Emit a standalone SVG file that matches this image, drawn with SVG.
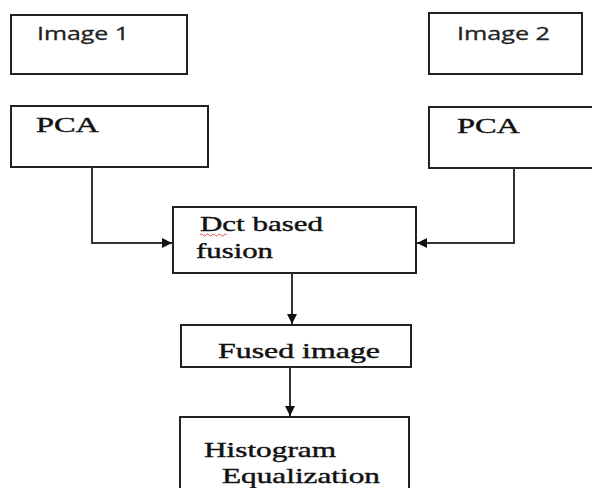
<svg xmlns="http://www.w3.org/2000/svg" width="592" height="488" viewBox="0 0 592 488">
<defs>
<style>
.box{fill:#fff;stroke:#222;stroke-width:2}
.ln{fill:none;stroke:#333;stroke-width:2}
.sans{font-family:"Open Sans","Liberation Sans",sans-serif;font-size:18px;fill:#222;stroke:#222;stroke-width:0.3}
.serif{font-family:"Liberation Serif","Times New Roman",serif;font-size:21px;fill:#111;stroke:#111;stroke-width:0.4}
</style>
<marker id="ah" viewBox="0 0 10 10" refX="10" refY="5" markerWidth="5" markerHeight="5" orient="auto" markerUnits="strokeWidth">
<path d="M0,0 L10,5 L0,10 z" fill="#111"/>
</marker>
</defs>
<rect width="592" height="488" fill="#fff"/>
<g id="image1">
<rect class="box" x="11" y="15" width="176" height="59"/>
<text class="sans" x="37" y="40" textLength="92" lengthAdjust="spacingAndGlyphs">Image 1</text>
</g>
<g id="image2">
<rect class="box" x="429" y="13" width="153" height="61"/>
<text class="sans" x="457" y="40" textLength="93" lengthAdjust="spacingAndGlyphs">Image 2</text>
</g>
<g id="pca1">
<rect class="box" x="11" y="106" width="197" height="61"/>
<text class="serif" x="36" y="132" textLength="63" lengthAdjust="spacingAndGlyphs">PCA</text>
</g>
<g id="pca2">
<rect class="box" x="429" y="107" width="170" height="61"/>
<text class="serif" x="457" y="133" textLength="63" lengthAdjust="spacingAndGlyphs">PCA</text>
</g>
<g id="dct">
<rect class="box" x="173" y="207" width="243" height="66"/>
<text class="serif" x="200" y="231" textLength="123" lengthAdjust="spacingAndGlyphs">Dct based</text>
<text class="serif" x="196" y="258" textLength="77" lengthAdjust="spacingAndGlyphs">fusion</text>
<path d="M200,235 q1.5,-2 3,0 t3,0 t3,0 t3,0 t3,0 t3,0 t3,0 t3,0 t3,0" fill="none" stroke="#e03030" stroke-width="0.8"/>
</g>
<g id="fused">
<rect class="box" x="181" y="325" width="230" height="42"/>
<text class="serif" x="218" y="358" textLength="162" lengthAdjust="spacingAndGlyphs">Fused image</text>
</g>
<g id="hist">
<rect class="box" x="180" y="417" width="229" height="90"/>
<text class="serif" x="204" y="457" textLength="132" lengthAdjust="spacingAndGlyphs">Histogram</text>
<text class="serif" x="222" y="483" textLength="158" lengthAdjust="spacingAndGlyphs">Equalization</text>
</g>
<g id="connectors">
<path class="ln" d="M92,167 V243 H172" marker-end="url(#ah)"/>
<path class="ln" d="M514,168 V243 H417" marker-end="url(#ah)"/>
<path class="ln" d="M292,273 V324" marker-end="url(#ah)"/>
<path class="ln" d="M290,367 V416" marker-end="url(#ah)"/>
</g>
</svg>
